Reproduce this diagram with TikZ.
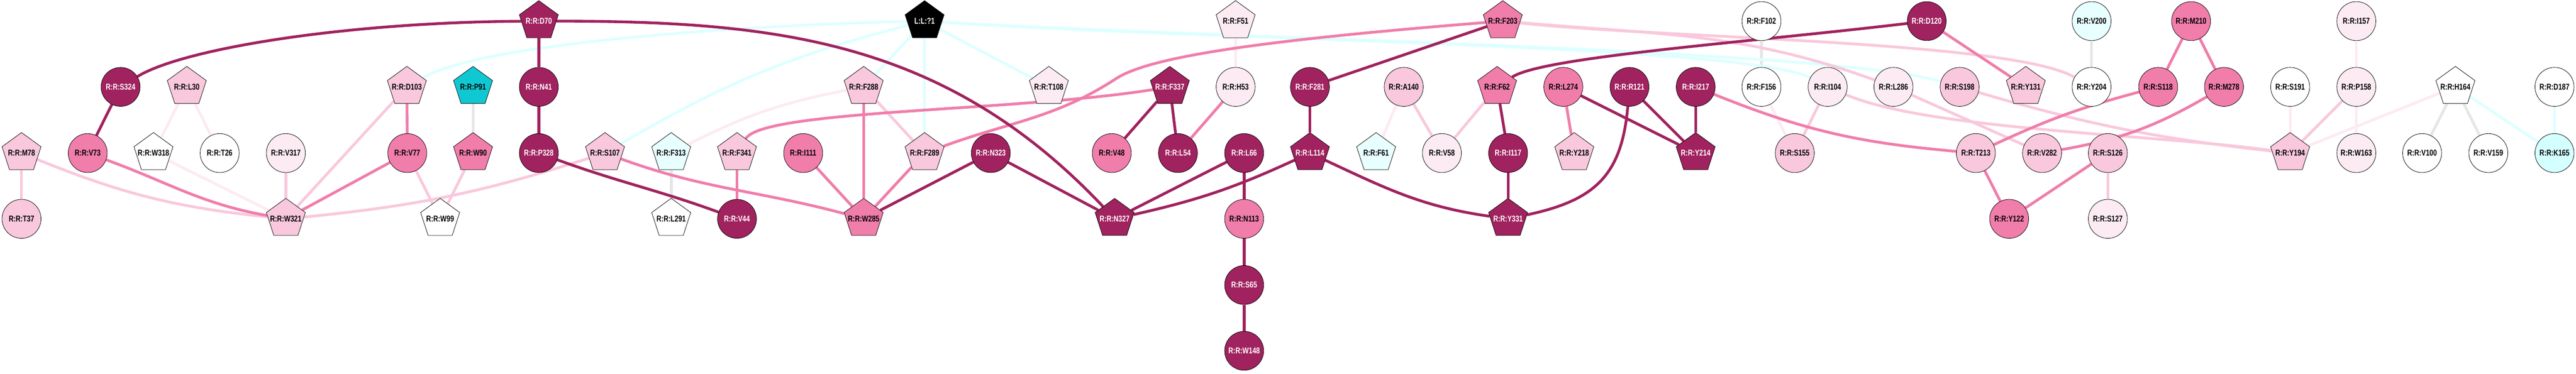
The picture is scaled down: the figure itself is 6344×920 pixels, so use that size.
\documentclass[tikz,border=0pt]{standalone}
\usepackage{fontspec}
\newfontfamily\resfont{Liberation Sans Bold}[FakeStretch=0.78]
\usetikzlibrary{shapes.geometric, backgrounds}

\definecolor{resdark}{RGB}{160,34,94}
\definecolor{resmid}{RGB}{240,125,170}
\definecolor{reslight}{RGB}{249,200,220}
\definecolor{respale}{RGB}{252,235,242}
\definecolor{resice}{RGB}{232,255,255}
\definecolor{resaqua}{RGB}{212,255,255}
\definecolor{resteal}{RGB}{16,200,210}
\definecolor{resgray}{RGB}{230,230,230}
\definecolor{linkice}{RGB}{222,255,255}

\begin{document}
\begin{tikzpicture}[
        x=0.5pt, y=0.5pt,
        res/.style={circle, minimum size=48pt, inner sep=0pt, draw=black, line width=0.5pt,
            font=\resfont\fontsize{10.5}{12}\selectfont,
            execute at begin node={\hbox to 0pt\bgroup\hss},
            execute at end node={\hss\egroup}},
        pent/.style={res, regular polygon, regular polygon sides=5, minimum size=50.5pt},
        dk/.style={fill=resdark, text=white},
        md/.style={fill=resmid},
        lt/.style={fill=reslight},
        pl/.style={fill=respale},
        wh/.style={fill=white},
        ic/.style={fill=resice},
        % links between residues
        link/.style={line width=3.4pt},
        edk/.style={link, draw=resdark},
        emd/.style={link, draw=resmid},
        elt/.style={link, draw=reslight},
        epl/.style={link, draw=respale},
        egr/.style={link, draw=resgray},
        eic/.style={link, draw=linkice}
    ]
        \useasboundingbox (0,0) rectangle (6344,-920);

        % top row
        \node (d70) [pent, dk] at (1327,-52) {R:R:D70};
        \node (lig) [pent, fill=black, text=white] at (2277,-52) {L:L:?1};
        \node (f51) [pent, pl] at (3043,-52) {R:R:F51};
        \node (f203) [pent, md] at (3701,-52) {R:R:F203};
        \node (f102) [res, wh] at (4338,-52) {R:R:F102};
        \node (d120) [res, dk] at (4745,-52) {R:R:D120};
        \node (v200) [res, ic] at (5151,-52) {R:R:V200};
        \node (m210) [res, md] at (5396,-52) {R:R:M210};
        \node (i157) [res, pl] at (5803,-52) {R:R:I157};

        % second row
        \node (s324) [res, dk] at (297,-214) {R:R:S324};
        \node (l30) [pent, lt] at (460,-214) {R:R:L30};
        \node (d103) [pent, lt] at (1002,-214) {R:R:D103};
        \node (p91) [pent, fill=resteal] at (1165,-214) {R:R:P91};
        \node (n41) [res, dk] at (1327,-214) {R:R:N41};
        \node (f288) [pent, lt] at (2127,-214) {R:R:F288};
        \node (t108) [pent, pl] at (2583,-214) {R:R:T108};
        \node (f337) [pent, dk] at (2881,-214) {R:R:F337};
        \node (h53) [res, pl] at (3043,-214) {R:R:H53};
        \node (f281) [res, dk] at (3226,-214) {R:R:F281};
        \node (a140) [res, lt] at (3457,-214) {R:R:A140};
        \node (f62) [pent, md] at (3687,-214) {R:R:F62};
        \node (l274) [res, md] at (3850,-214) {R:R:L274};
        \node (r121) [res, dk] at (4013,-214) {R:R:R121};
        \node (i217) [res, dk] at (4176,-214) {R:R:I217};
        \node (f156) [res, wh] at (4338,-214) {R:R:F156};
        \node (i104) [res, pl] at (4501,-214) {R:R:I104};
        \node (l286) [res, pl] at (4663,-214) {R:R:L286};
        \node (s198) [res, lt] at (4826,-214) {R:R:S198};
        \node (y131) [pent, lt] at (4989,-214) {R:R:Y131};
        \node (y204) [res, wh] at (5151,-214) {R:R:Y204};
        \node (s118) [res, md] at (5315,-214) {R:R:S118};
        \node (m278) [res, md] at (5477,-214) {R:R:M278};
        \node (s191) [res, wh] at (5640,-214) {R:R:S191};
        \node (p158) [res, pl] at (5803,-214) {R:R:P158};
        \node (h164) [pent, wh] at (6047,-214) {R:R:H164};
        \node (d187) [res, wh] at (6291,-214) {R:R:D187};

        % third row
        \node (m78) [pent, lt] at (53,-377) {R:R:M78};
        \node (v73) [res, md] at (216,-377) {R:R:V73};
        \node (w318) [pent, wh] at (378,-377) {R:R:W318};
        \node (t26) [res, wh] at (541,-377) {R:R:T26};
        \node (v317) [res, pl] at (704,-377) {R:R:V317};
        \node (v77) [res, md] at (1003,-377) {R:R:V77};
        \node (w90) [pent, md] at (1165,-377) {R:R:W90};
        \node (p328) [res, dk] at (1327,-377) {R:R:P328};
        \node (s107) [pent, lt] at (1490,-377) {R:R:S107};
        \node (f313) [pent, ic] at (1653,-377) {R:R:F313};
        \node (f341) [pent, lt] at (1815,-377) {R:R:F341};
        \node (i111) [res, md] at (1978,-377) {R:R:I111};
        \node (f289) [pent, lt] at (2277,-377) {R:R:F289};
        \node (n323) [res, dk] at (2440,-377) {R:R:N323};
        \node (v48) [res, md] at (2738,-377) {R:R:V48};
        \node (l54) [res, dk] at (2901,-377) {R:R:L54};
        \node (l66) [res, dk] at (3064,-377) {R:R:L66};
        \node (l114) [pent, dk] at (3226,-377) {R:R:L114};
        \node (f61) [pent, ic] at (3389,-377) {R:R:F61};
        \node (v58) [res, pl] at (3551,-377) {R:R:V58};
        \node (i117) [res, dk] at (3714,-377) {R:R:I117};
        \node (y218) [pent, lt] at (3877,-377) {R:R:Y218};
        \node (y214) [pent, dk] at (4176,-377) {R:R:Y214};
        \node (s155) [res, lt] at (4420,-377) {R:R:S155};
        \node (t213) [res, lt] at (4866,-377) {R:R:T213};
        \node (v282) [res, lt] at (5029,-377) {R:R:V282};
        \node (s126) [res, lt] at (5191,-377) {R:R:S126};
        \node (y194) [pent, lt] at (5640,-377) {R:R:Y194};
        \node (w163) [res, pl] at (5803,-377) {R:R:W163};
        \node (v100) [res, wh] at (5965,-377) {R:R:V100};
        \node (v159) [res, wh] at (6128,-377) {R:R:V159};
        \node (k165) [res, fill=resaqua] at (6291,-377) {R:R:K165};

        % fourth row and the chain below L66
        \node (t37) [res, lt] at (53,-539) {R:R:T37};
        \node (w321) [pent, lt] at (704,-539) {R:R:W321};
        \node (w99) [pent, wh] at (1084,-539) {R:R:W99};
        \node (l291) [pent, wh] at (1653,-539) {R:R:L291};
        \node (v44) [res, dk] at (1815,-539) {R:R:V44};
        \node (w285) [pent, md] at (2127,-539) {R:R:W285};
        \node (n327) [pent, dk] at (2745,-539) {R:R:N327};
        \node (n113) [res, md] at (3064,-539) {R:R:N113};
        \node (y331) [pent, dk] at (3714,-539) {R:R:Y331};
        \node (y122) [res, md] at (4948,-539) {R:R:Y122};
        \node (s127) [res, pl] at (5191,-539) {R:R:S127};
        \node (s65) [res, dk] at (3064,-702) {R:R:S65};
        \node (w148) [res, dk] at (3064,-864) {R:R:W148};

        \begin{pgfonlayer}{background}
        % faint links
        \draw [egr] (p91) -- (w90);
        \draw [egr] (f313) -- (l291);
        \draw [egr] (f102) -- (f156);
        \draw [egr] (v200) -- (y204);
        \draw [egr] (h164) -- (v100);
        \draw [egr] (h164) -- (v159);
        \draw [eic] (d103) .. controls (1200,-100) and (1900,-60) .. (lig);
        \draw [eic] (s107) to[bend left=8] (lig);
        \draw [eic] (f288) -- (lig);
        \draw [eic] (lig) -- (f289);
        \draw [eic] (lig) -- (t108);
        \draw [eic] (lig) .. controls (3000,-100) and (4300,-110) .. (i104);
        \draw [eic] (lig) .. controls (3000,-95) and (4500,-120) .. (s198);
        \draw [eic] (h164) -- (k165);
        \draw [eic] (d187) -- (k165);
        \draw [epl] (l30) -- (w318);
        \draw [epl] (l30) -- (t26);
        \draw [epl] (w318) -- (w321);
        \draw [epl] (f313) to[bend left=8] (f288);
        \draw [epl] (f51) -- (h53);
        \draw [epl] (a140) -- (f61);
        \draw [epl] (f156) -- (s155);
        \draw [epl] (s191) -- (y194);
        \draw [epl] (i157) -- (p158);
        \draw [epl] (p158) -- (w163);
        \draw [epl] (y194) -- (h164);

        % light links
        \draw [elt] (m78) -- (t37);
        \draw [elt] (m78) to[out=-22, in=174] (w321);
        \draw [elt] (v317) -- (w321);
        \draw [elt] (d103) -- (w321);
        \draw [elt] (v77) -- (w99);
        \draw [elt] (w90) -- (w99);
        \draw [elt] (w321) to[bend right=6] (s107);
        \draw [elt] (f288) -- (f289);
        \draw [elt] (a140) -- (v58);
        \draw [elt] (v58) -- (f62);
        \draw [elt] (i104) -- (s155);
        \draw [elt] (s126) -- (s127);
        \draw [elt] (p158) -- (y194);
        \draw [elt] (f203) to[out=-5, in=160] (l286);
        \draw [elt] (f203) .. controls (4100,-95) and (4950,-100) .. (y204);
        \draw [elt] (s198) to[bend right=5] (y194);
        \draw [elt] (i104) .. controls (4750,-320) and (5300,-330) .. (y194);
        \draw [elt] (l286) -- (v282);

        % medium links
        \draw [emd] (v73) to[out=-20, in=170] (w321);
        \draw [emd] (v77) -- (w321);
        \draw [emd] (d103) -- (v77);
        \draw [emd] (f341) -- (v44);
        \draw [emd] (i111) -- (w285);
        \draw [emd] (f288) -- (w285);
        \draw [emd] (f289) -- (w285);
        \draw [emd] (h53) -- (l54);
        \draw [emd] (l274) -- (y218);
        \draw [emd] (d120) -- (y131);
        \draw [emd] (t213) -- (y122);
        \draw [emd] (s126) -- (y122);
        \draw [emd] (m210) -- (s118);
        \draw [emd] (m210) -- (m278);
        \draw [emd] (s107) to[out=-20, in=165] (w285);
        \draw [emd] (f341) .. controls (1880,-270) and (2500,-275) .. (f337);
        \draw [emd] (f289) to[out=20, in=213] (2748,-194) .. controls (2830,-140) and (3100,-100) .. (f203);
        \draw [emd] (i217) to[out=-22, in=175] (t213);
        \draw [emd] (t213) to[bend left=5] (s118);
        \draw [emd] (v282) to[bend right=10] (m278);

        % strong links
        \draw [edk] (s324) -- (v73);
        \draw [edk] (d70) -- (n41);
        \draw [edk] (n41) -- (p328);
        \draw [edk] (n323) -- (w285);
        \draw [edk] (n323) -- (n327);
        \draw [edk] (l66) -- (n327);
        \draw [edk] (n327) to[bend right=6] (l114);
        \draw [edk] (f337) -- (v48);
        \draw [edk] (f337) -- (l54);
        \draw [edk] (l66) -- (n113);
        \draw [edk] (n113) -- (s65);
        \draw [edk] (s65) -- (w148);
        \draw [edk] (f281) -- (f203);
        \draw [edk] (f281) -- (l114);
        \draw [edk] (f62) -- (i117);
        \draw [edk] (i117) -- (y331);
        \draw [edk] (l274) -- (y214);
        \draw [edk] (r121) -- (y214);
        \draw [edk] (i217) -- (y214);
        \draw [edk] (s324) .. controls (450,-120) and (850,-55) .. (d70);
        \draw [edk] (d70) .. controls (1914,-52) and (2330,-100) .. (n327);
        \draw [edk] (p328) to[out=-20, in=160] (v44);
        \draw [edk] (l114) to[out=-25, in=172] (y331);
        \draw [edk] (r121) to[out=-95, in=12, looseness=1.2] (y331);
        \draw [edk] (f62) .. controls (3800,-140) and (4300,-105) .. (d120);
        \end{pgfonlayer}

    \end{tikzpicture}
\end{document}
